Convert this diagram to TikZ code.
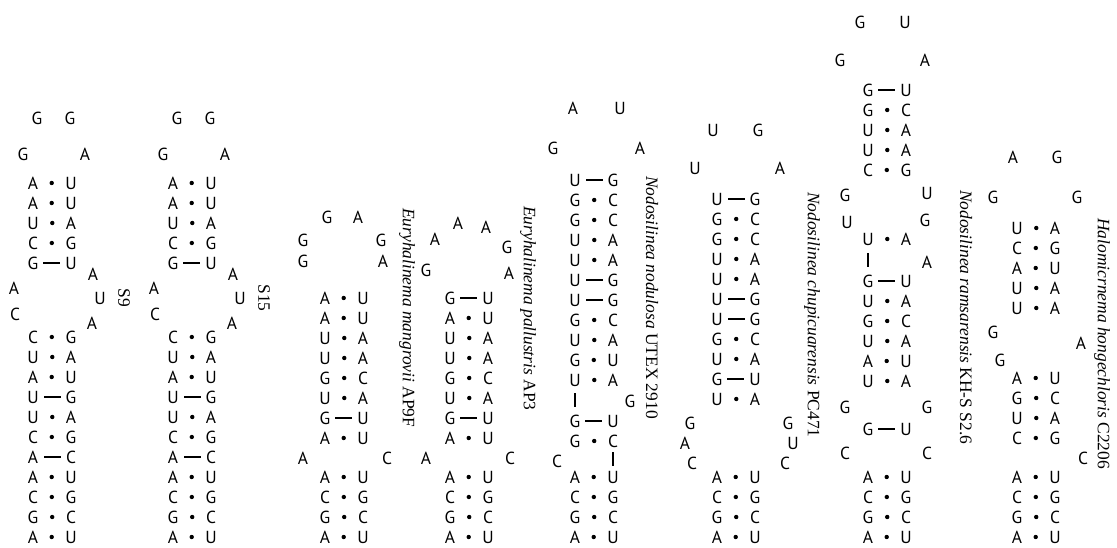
\documentclass[tikz,border=0pt]{standalone}
\usepackage{fontspec}
\usepackage{tikz}
\newfontfamily\ntfont{PT Sans}
\newfontfamily\lblfont{Liberation Serif}
\tikzset{
  nt/.style={font=\ntfont\fontsize{17.5}{17.5}\selectfont, inner sep=0pt},
  pdot/.style={circle, fill, inner sep=0pt, minimum size=4.4pt},
  pbar/.style={fill, inner sep=0pt, minimum width=17pt, minimum height=1.5pt},
  vbar/.style={fill, inner sep=0pt, minimum width=1.5pt, minimum height=14pt},
  lbl/.style={font=\lblfont\fontsize{17.5}{17.5}\selectfont, rotate=-90, anchor=west, inner sep=0pt}
}
% base pairs: prefix, x of left strand, list y/left/right/bond
\newcommand{\pairs}[3]{%
  \foreach \ya/\la/\ra/\ka in {#3}{
    \node[nt] (#1l\ya) at (#2,\ya) {\la};
    \node[nt] (#1r\ya) at (#2+38,\ya) {\ra};
    \path (#1l\ya) -- node[\ka]{} (#1r\ya);
  }}
% unpaired bases: prefix, list x/y/base
\newcommand{\bases}[2]{%
  \foreach \xa/\ya/\ba [count=\ia] in {#2}
    \node[nt] (#1u\ia) at (\xa,\ya) {\ba};}

\begin{document}
\begin{tikzpicture}[x=1bp, y=-1bp]
  \useasboundingbox (0,0) rectangle (1117,548);
  % S9 and S15
  \foreach \p/\dx/\lab in {a/0/S9, b/140/S15}{
    \begin{scope}[shift={(\dx,0)}]
      \bases{\p}{37/118/G, 70/118/G, 23/154/G, 85/154/A, 14/288/A, 15/314/C,
        93/274/A, 100/298/U, 92/323/A}
      \pairs{\p}{33}{183/A/U/pdot, 203/A/U/pdot, 223/U/A/pdot, 243/C/G/pdot, 263/G/U/pbar,
        337/C/G/pdot, 357/U/A/pdot, 377/A/U/pdot, 397/U/G/pbar, 417/U/A/pdot, 437/C/G/pdot,
        457/A/C/pbar, 477/A/U/pdot, 497/C/G/pdot, 517/G/C/pdot, 537/A/U/pdot}
      \node[lbl, anchor=center] (\p lab) at (124,298) {\lab};
    \end{scope}
  }
  % Euryhalinema mangrovii
  \bases{c}{327/217/G, 358/217/A, 303/240/G, 381/240/G, 303/261/G, 383/261/A,
    303/458/A, 387/458/C}
  \pairs{c}{325}{298/A/U/pdot, 318/A/U/pdot, 338/U/A/pdot, 358/U/A/pdot, 378/G/C/pdot,
    398/U/A/pdot, 418/G/U/pbar, 438/A/U/pdot, 477/A/U/pdot, 497/C/G/pdot, 517/G/C/pdot,
    537/A/U/pdot}
  \node[lbl] (clab) at (407,208) {\textit{Euryhalinema mangrovii} AP9F};
  % Euryhalinema pallustris
  \bases{d}{426/270/G, 435/239/A, 458/223/A, 486/227/A, 507/247/G, 509/273/A,
    426/458/A, 510/458/C}
  \pairs{d}{450}{298/G/U/pbar, 318/A/U/pdot, 338/U/A/pdot, 358/U/A/pdot, 378/G/C/pdot,
    398/U/A/pdot, 418/G/U/pbar, 438/A/U/pdot, 477/A/U/pdot, 497/C/G/pdot, 517/G/C/pdot,
    537/A/U/pdot}
  \node[lbl] (dlab) at (528,206) {\textit{Euryhalinema pallustris} AP3};
  % Nodosilinea nodulosa
  \bases{e}{573/108/A, 620/108/U, 553/148/G, 640/148/A, 630/401/G, 557/461/C}
  \pairs{e}{575}{180/U/G/pbar, 200/G/C/pdot, 220/G/C/pdot, 240/U/A/pdot, 260/U/A/pdot,
    280/U/G/pbar, 300/U/G/pbar, 320/G/C/pdot, 340/U/A/pdot, 360/G/U/pdot, 380/U/A/pdot,
    421/G/U/pbar, 441/G/C/pdot, 477/A/U/pdot, 497/C/G/pdot, 517/G/C/pdot, 537/A/U/pdot}
  \path (el380) -- node[vbar]{} (el421);
  \path (er441) -- node[vbar]{} (er477);
  \node[lbl] (elab) at (652,176) {\textit{Nodosilinea nodulosa} UTEX 2910};
  % Nodosilinea chupicuarensis
  \bases{f}{713/130/U, 758/130/G, 695/168/U, 780/168/A, 690/423/G, 685/443/A, 692/463/C,
    788/423/G, 793/443/U, 785/463/C}
  \pairs{f}{717}{199/U/G/pbar, 219/G/C/pdot, 239/G/C/pdot, 259/U/A/pdot, 279/U/A/pdot,
    299/U/G/pbar, 319/U/G/pbar, 339/G/C/pdot, 359/U/A/pdot, 379/G/U/pbar, 399/U/A/pdot,
    477/A/U/pdot, 497/C/G/pdot, 517/G/C/pdot, 537/A/U/pdot}
  \node[lbl] (flab) at (812,192) {\textit{Nodosilinea chupicuarensis} PC471};
  % Nodosilinea ramsarensis
  \bases{g}{860/22/G, 905/22/U, 840/60/G, 925/60/A, 845/195/G, 847/222/U, 927/193/U,
    925/220/G, 927/262/A, 845/407/G, 927/407/G, 845/453/C, 927/453/C}
  \pairs{g}{868}{90/G/U/pbar, 110/G/C/pdot, 130/U/A/pdot, 150/U/A/pdot, 170/C/G/pdot,
    239/U/A/pdot, 281/G/U/pbar, 301/U/A/pdot, 321/G/C/pdot, 341/U/A/pdot, 361/A/U/pdot,
    381/U/A/pdot, 429/G/U/pbar, 477/A/U/pdot, 497/C/G/pdot, 517/G/C/pdot, 537/A/U/pdot}
  \path (gl239) -- node[vbar]{} (gl281);
  \node[lbl] (glab) at (966,190) {\textit{Nodosilinea ramsarensis} KH-S S2.6};
  % Halomicrnema hongechloris
  \bases{h}{1013/157/A, 1057/157/G, 993/197/G, 1077/197/G, 993/332/G, 1000/360/G,
    1081/343/A, 1083/458/C}
  \pairs{h}{1017}{228/U/A/pdot, 248/C/G/pdot, 268/A/U/pdot, 288/U/A/pdot, 308/U/A/pdot,
    378/A/U/pdot, 398/G/C/pdot, 418/U/A/pdot, 438/C/G/pdot, 477/A/U/pdot, 497/C/G/pdot,
    517/G/C/pdot, 537/A/U/pdot}
  \node[lbl] (hlab) at (1102,218) {\textit{Halomicrnema hongechloris} C2206};
\end{tikzpicture}
\end{document}
